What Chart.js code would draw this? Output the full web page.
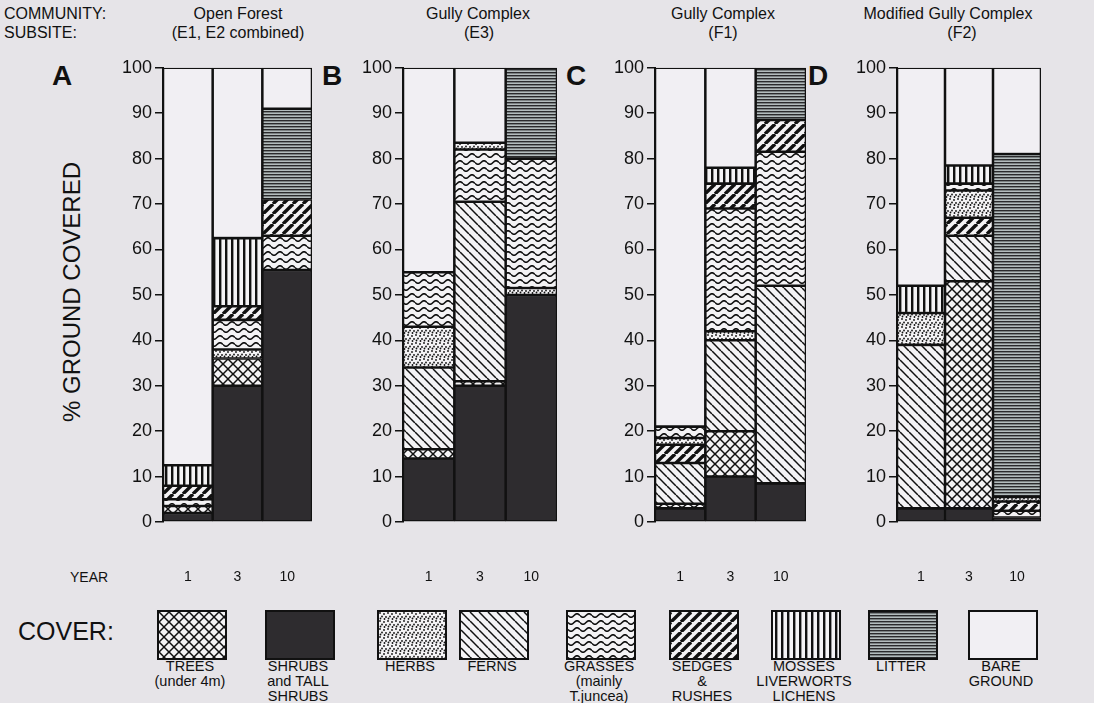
<!DOCTYPE html>
<html>
<head>
    <title>Ground cover by community</title>
    <script src="https://cdn.jsdelivr.net/npm/chart.js"></script>
    <style>
        body { margin: 0; background: #e6e4e8; width: 1094px; height: 703px; position: relative; overflow: hidden;
               font-family: "Liberation Sans", Arial, sans-serif; color: #111; }
        .t { position: absolute; white-space: nowrap; }
        .c { transform: translateX(-50%); text-align: center; }
        .h { font-size: 16px; }
        canvas.panel { position: absolute; }
        .box { position: absolute; border: 2px solid #111; box-sizing: border-box; }
        .lab { position: absolute; transform: translateX(-50%); text-align: center; font-size: 14.5px; line-height: 15px; white-space: nowrap; }
    </style>
</head>
<body>
<div class="t h" style="left:4px;top:5px;">COMMUNITY:</div>
<div class="t h" style="left:4px;top:24px;">SUBSITE:</div>
<div class="t c h" style="left:238px;top:5px;">Open Forest</div>
<div class="t c h" style="left:238px;top:24px;">(E1, E2 combined)</div>
<div class="t c h" style="left:478px;top:5px;">Gully Complex</div>
<div class="t c h" style="left:479px;top:24px;">(E3)</div>
<div class="t c h" style="left:723px;top:5px;">Gully Complex</div>
<div class="t c h" style="left:723px;top:24px;">(F1)</div>
<div class="t c h" style="left:948px;top:5px;">Modified Gully Complex</div>
<div class="t c h" style="left:962px;top:24px;">(F2)</div>

<div class="t" style="left:52px;top:60px;font-size:28px;font-weight:bold;">A</div>
<div class="t" style="left:322px;top:60px;font-size:28px;font-weight:bold;">B</div>
<div class="t" style="left:566px;top:60px;font-size:28px;font-weight:bold;">C</div>
<div class="t" style="left:808px;top:60px;font-size:28px;font-weight:bold;">D</div>

<div class="t" style="left:72px;top:292px;font-size:24px;transform:translate(-50%,-50%) rotate(-90deg);">% GROUND COVERED</div>
<div class="t" style="left:70px;top:569px;font-size:14px;">YEAR</div>
<div class="t" style="left:18px;top:617px;font-size:25px;">COVER:</div>

<canvas id="pA" class="panel"></canvas>
<canvas id="pB" class="panel"></canvas>
<canvas id="pC" class="panel"></canvas>
<canvas id="pD" class="panel"></canvas>
<div id="legend"></div>

<script>
// years sampled
const years = ['1', '3', '10'];

// cover classes, legend order
const covers = ['trees', 'shrubs', 'herbs', 'ferns', 'grasses', 'sedges', 'mosses', 'litter', 'bare'];
const coverLabels = [
    ['TREES', '(under 4m)'],
    ['SHRUBS', 'and TALL', 'SHRUBS'],
    ['HERBS'],
    ['FERNS'],
    ['GRASSES', '(mainly', 'T.juncea)'],
    ['SEDGES', '&', 'RUSHES'],
    ['MOSSES', 'LIVERWORTS', 'LICHENS'],
    ['LITTER'],
    ['BARE', 'GROUND']
];

// % cover per bar, segments listed bottom to top
const aYear1 = [['shrubs', 2], ['trees', 1.5], ['grasses', 1.5], ['sedges', 3], ['mosses', 4.5], ['bare', 87.5]];
const aYear3 = [['shrubs', 30], ['trees', 6], ['herbs', 2], ['grasses', 6.5], ['sedges', 3], ['mosses', 15], ['bare', 37.5]];
const aYear10 = [['shrubs', 55.5], ['grasses', 7.5], ['sedges', 8], ['litter', 20], ['bare', 9]];

const bYear1 = [['shrubs', 14], ['trees', 2], ['ferns', 18], ['herbs', 9], ['grasses', 12], ['bare', 45]];
const bYear3 = [['shrubs', 30], ['trees', 1], ['ferns', 39.5], ['grasses', 11.5], ['herbs', 1.5], ['bare', 16.5]];
const bYear10 = [['shrubs', 50], ['herbs', 1.5], ['grasses', 28.5], ['litter', 20]];

const cYear1 = [['shrubs', 3], ['grasses', 1], ['ferns', 9], ['sedges', 4], ['herbs', 1.5], ['grasses', 2.5], ['bare', 79]];
const cYear3 = [['shrubs', 10], ['trees', 10], ['ferns', 20], ['herbs', 2], ['grasses', 27], ['sedges', 5.5], ['mosses', 3.5], ['bare', 22]];
const cYear10 = [['shrubs', 8.5], ['ferns', 43.5], ['grasses', 29.5], ['sedges', 7], ['litter', 11.5]];

const dYear1 = [['shrubs', 3], ['ferns', 36], ['herbs', 7], ['mosses', 6], ['bare', 48]];
const dYear3 = [['shrubs', 3], ['trees', 50], ['ferns', 10], ['sedges', 4], ['herbs', 6], ['grasses', 1.5], ['mosses', 4], ['bare', 21.5]];
const dYear10 = [['shrubs', 1], ['grasses', 1.5], ['sedges', 2], ['herbs', 1], ['litter', 75.5], ['bare', 19]];

const yTicks = [0, 10, 20, 30, 40, 50, 60, 70, 80, 90, 100];

const FONT = '"Liberation Sans", Arial, sans-serif';
const INK = '#111';

// draws one tile of a fill pattern
function tile(kind) {
    const c = document.createElement('canvas');
    const sizes = { trees: [10, 10], herbs: [8, 8], ferns: [9, 9], grasses: [12, 7], sedges: [10, 10], mosses: [6, 6], litter: [6, 3], shrubs: [4, 4], bare: [4, 4] };
    c.width = sizes[kind][0];
    c.height = sizes[kind][1];
    const g = c.getContext('2d');
    const w = c.width, h = c.height;
    g.fillStyle = '#f4f3f5';
    g.fillRect(0, 0, w, h);
    g.strokeStyle = INK;
    g.fillStyle = INK;
    if (kind === 'shrubs') {
        g.fillStyle = '#2e2c2f';
        g.fillRect(0, 0, w, h);
    } else if (kind === 'bare') {
        g.fillStyle = '#f1eff3';
        g.fillRect(0, 0, w, h);
    } else if (kind === 'litter') {
        g.fillStyle = '#b3bcbd';
        g.fillRect(0, 0, w, h);
        g.fillStyle = '#2a2a2c';
        g.fillRect(0, 0, w, 1.4);
    } else if (kind === 'mosses') {
        g.fillRect(2, 0, 2.4, h);
    } else if (kind === 'herbs') {
        [[1, 1], [5, 2], [3, 4.5], [7, 5], [1.5, 6.5], [5.5, 7]].forEach(([x, y]) => {
            g.beginPath(); g.arc(x, y, 0.9, 0, Math.PI * 2); g.fill();
        });
    } else if (kind === 'grasses') {
        g.lineWidth = 1.6;
        g.beginPath();
        for (let x = 0; x <= w; x += 0.5) {
            const y = h / 2 + 1.7 * Math.sin(2 * Math.PI * x / w);
            if (x === 0) g.moveTo(x, y); else g.lineTo(x, y);
        }
        g.stroke();
    } else {
        const back = kind === 'ferns' || kind === 'trees';
        const fwd = kind === 'sedges' || kind === 'trees';
        g.lineWidth = kind === 'sedges' ? 3.4 : 1.5;
        for (let k = -1; k <= 1; k++) {
            if (back) { g.beginPath(); g.moveTo(k * w, 0); g.lineTo(k * w + w, h); g.stroke(); }
            if (fwd) { g.beginPath(); g.moveTo(k * w, h); g.lineTo(k * w + w, 0); g.stroke(); }
        }
    }
    return c;
}

function patternsFor(ctx) {
    const p = {};
    covers.forEach(k => { p[k] = ctx.createPattern(tile(k), 'repeat'); });
    return p;
}

// one dataset per stacking layer, each bar colours its own segment
function layers(bars, pats) {
    const n = Math.max(...bars.map(b => b.length));
    const out = [];
    for (let k = 0; k < n; k++) {
        out.push({
            data: bars.map(b => b[k] ? b[k][1] : 0),
            backgroundColor: bars.map(b => b[k] ? pats[b[k][0]] : 'rgba(0,0,0,0)'),
            borderColor: INK,
            borderWidth: bars.map(b => b[k] ? 1.6 : 0),
            borderSkipped: false,
            barPercentage: 1,
            categoryPercentage: 1
        });
    }
    return out;
}

const AXIS_W = 60, TOP_PAD = 10, X_H = 70, PLOT_H = 458;

function panel(id, axisX, plotW, bars) {
    const cv = document.getElementById(id);
    cv.width = AXIS_W + plotW + 2;
    cv.height = TOP_PAD + PLOT_H + X_H;
    cv.style.left = (axisX - AXIS_W) + 'px';
    cv.style.top = (64 - TOP_PAD) + 'px';
    const ctx = cv.getContext('2d');
    const pats = patternsFor(ctx);
    return new Chart(ctx, {
        type: 'bar',
        data: { labels: years, datasets: layers(bars, pats) },
        options: {
            responsive: false,
            animation: false,
            layout: { padding: { top: TOP_PAD, right: 2, left: 0, bottom: 0 } },
            plugins: { legend: { display: false }, tooltip: { enabled: false } },
            scales: {
                x: {
                    stacked: true,
                    // invisible long ticks push the year labels down
                    grid: { display: true, drawOnChartArea: false, drawTicks: true, tickLength: 47, color: 'rgba(0,0,0,0)' },
                    border: { display: false },
                    ticks: { color: INK, font: { family: FONT, size: 14 }, padding: 0, maxRotation: 0 },
                    afterFit: s => { s.height = X_H; }
                },
                y: {
                    stacked: true,
                    min: 0,
                    max: 100,
                    afterBuildTicks: s => { s.ticks = yTicks.map(v => ({ value: v })); },
                    ticks: { color: INK, font: { family: FONT, size: 18 }, padding: 3 },
                    grid: { drawOnChartArea: false, color: INK, tickLength: 8, lineWidth: 1.5 },
                    border: { color: INK, width: 2 },
                    afterFit: s => { s.width = AXIS_W; }
                }
            }
        }
    });
}

panel('pA', 163, 149, [aYear1, aYear3, aYear10]);
panel('pB', 403, 154, [bYear1, bYear3, bYear10]);
panel('pC', 655, 151, [cYear1, cYear3, cYear10]);
panel('pD', 897, 144, [dYear1, dYear3, dYear10]);

// legend: pattern swatches with labels below
const boxX = [157, 265, 377, 459, 566, 669, 771, 868, 968];
const legend = document.getElementById('legend');
covers.forEach((k, i) => {
    const sw = document.createElement('canvas');
    sw.width = 66; sw.height = 46;
    sw.className = 'box';
    sw.style.left = boxX[i] + 'px';
    sw.style.top = '610px';
    const g = sw.getContext('2d');
    g.fillStyle = g.createPattern(tile(k), 'repeat');
    g.fillRect(0, 0, 66, 46);
    legend.appendChild(sw);
    const lab = document.createElement('div');
    lab.className = 'lab';
    lab.style.left = (boxX[i] + 33) + 'px';
    lab.style.top = '659px';
    lab.innerHTML = coverLabels[i].join('<br>');
    legend.appendChild(lab);
});
</script>
</body>
</html>
